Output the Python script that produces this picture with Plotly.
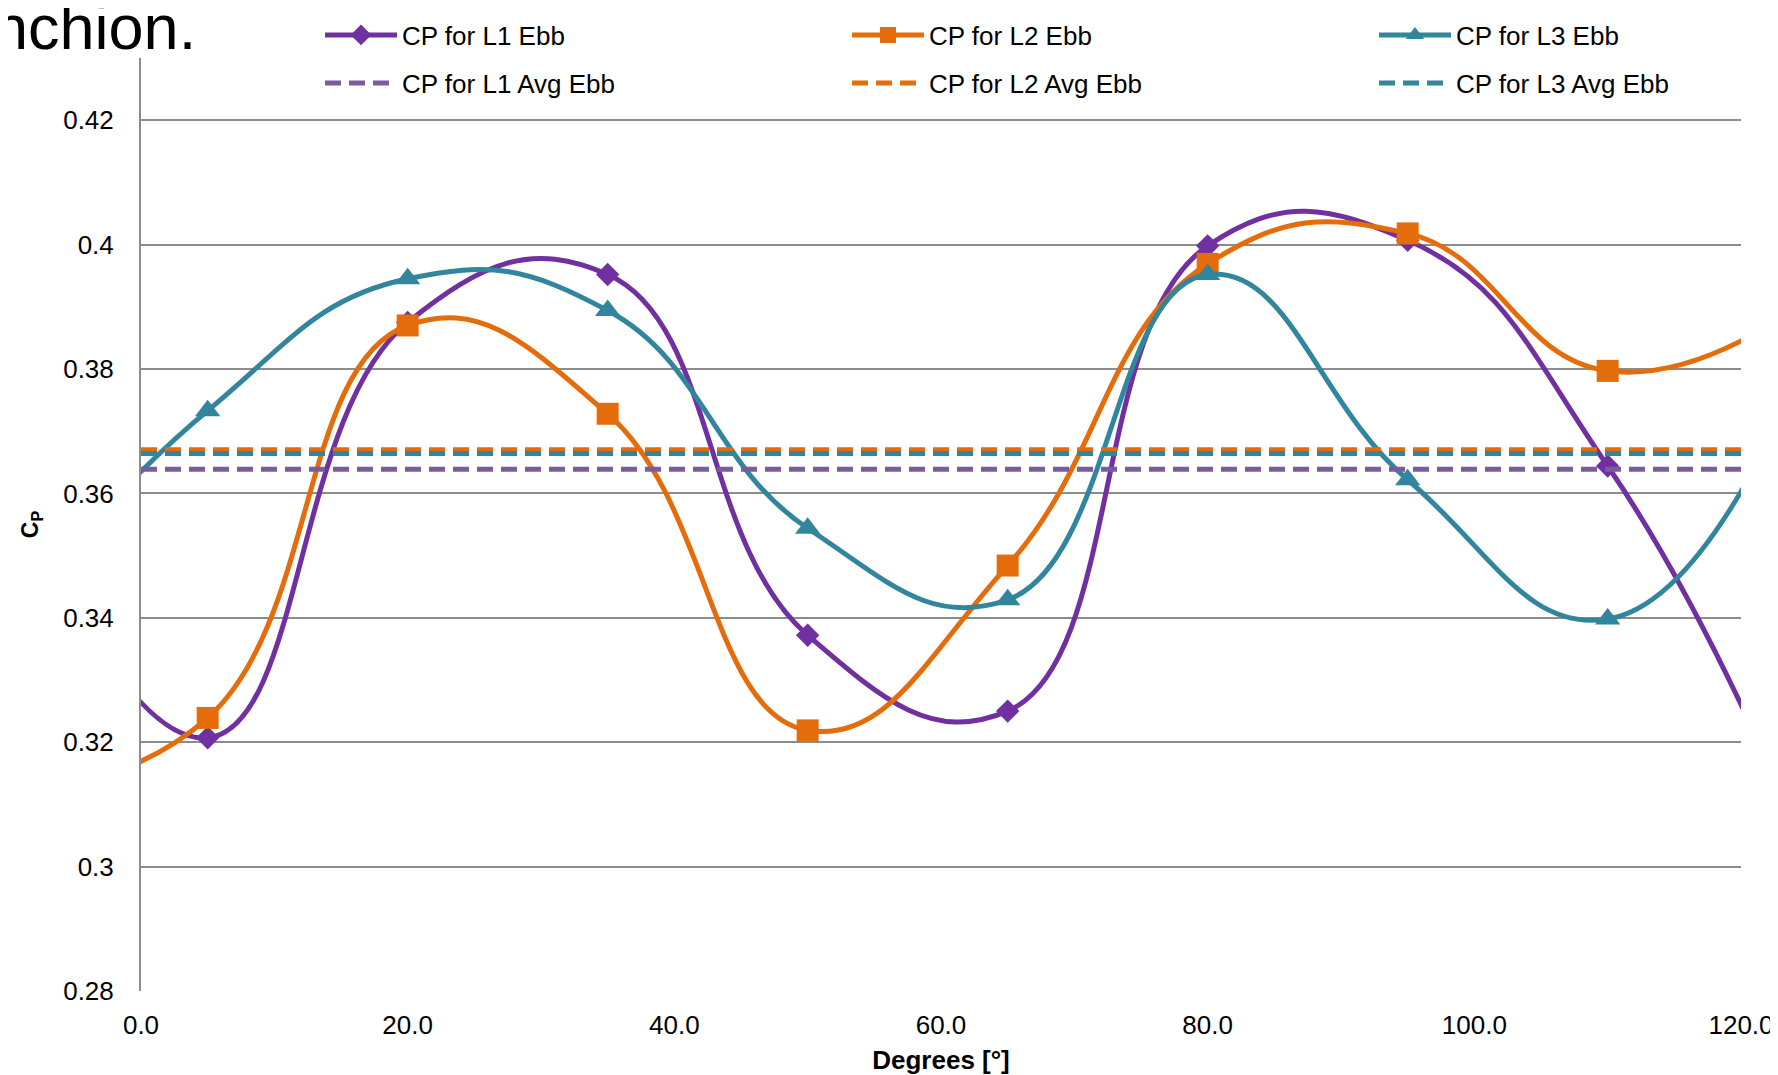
import plotly.graph_objects as go

# ---- data ----
degrees = [-10, 5, 20, 35, 50, 65, 80, 95, 110, 125]
cp_l1 = [0.3644, 0.3207, 0.3875, 0.3952, 0.3372, 0.3250, 0.3998, 0.4007, 0.3644, 0.3020]
cp_l2 = [0.3120, 0.3239, 0.3870, 0.3728, 0.3219, 0.3484, 0.3969, 0.4018, 0.3797, 0.3910]
cp_l3 = [0.3398, 0.3733, 0.3945, 0.3894, 0.3544, 0.3429, 0.3952, 0.3622, 0.3398, 0.3820]
avg_x = [0, 120]
cp_l1_avg = 0.3639
cp_l2_avg = 0.3670
cp_l3_avg = 0.3664

x_ticks = [0, 20, 40, 60, 80, 100, 120]
y_ticks = [0.28, 0.30, 0.32, 0.34, 0.36, 0.38, 0.40, 0.42]

purple = "#7030A0"
orange = "#E46C0A"
teal = "#31859C"
purple_avg = "#7A5C9C"
orange_avg = "#E46C0A"
teal_avg = "#31859C"

FONT = "Liberation Sans, Arial, sans-serif"
# the page body adds an 8px offset; positions below are reference pixels minus 8
OFF = 8
W, H = 1778 - OFF, 1075 - OFF
L, T = 141 - OFF, 58 - OFF
R = 1778 - 1741
B = 1075 - 991

fig = go.Figure()

def main(name, y, color, symbol, size):
    fig.add_trace(go.Scatter(
        x=degrees, y=y, name=name, mode="lines+markers", legend="legend",
        line=dict(color=color, width=5, shape="spline", smoothing=1.3),
        marker=dict(symbol=symbol, size=size, color=color),
        cliponaxis=True,
    ))

main("CP for L1 Ebb", cp_l1, purple, "diamond", 18)
main("CP for L2 Ebb", cp_l2, orange, "square", 22)
main("CP for L3 Ebb", cp_l3, teal, "triangle-up", 22)

def avg(name, v, color):
    fig.add_trace(go.Scatter(
        x=avg_x, y=[v, v], name=name, mode="lines", legend="legend2",
        line=dict(color=color, width=5, dash="16px,8px"),
    ))

avg("CP for L1 Avg Ebb", cp_l1_avg, purple_avg)
avg("CP for L2 Avg Ebb", cp_l2_avg, orange_avg)
avg("CP for L3 Avg Ebb", cp_l3_avg, teal_avg)

fig.add_annotation(
    text="nchion.", xref="paper", yref="paper",
    x=(198 - OFF - L) / (W - L - R), y=1 + (T - (64 - OFF)) / (H - T - B),
    xanchor="right", yanchor="bottom", showarrow=False,
    font=dict(family=FONT, size=63, color="black"),
)

leg_common = dict(
    orientation="h", xref="container", yref="container",
    xanchor="left", yanchor="middle",
    entrywidth=440, entrywidthmode="pixels",
    itemwidth=72, font=dict(family=FONT, size=26, color="black"),
    bgcolor="rgba(0,0,0,0)",
)

fig.update_layout(
    width=W, height=H,
    paper_bgcolor="white", plot_bgcolor="white",
    margin=dict(l=L, r=R, t=T, b=B, autoexpand=False),
    font=dict(family=FONT, size=26, color="black"),
    showlegend=True,
    legend=dict(x=(320 - OFF) / W, y=1 - (35 - OFF) / H, **leg_common),
    legend2=dict(x=(320 - OFF) / W, y=1 - (83 - OFF) / H, **leg_common),
    xaxis=dict(
        range=[0, 120], tickvals=x_ticks, tickformat=".1f",
        showgrid=False, zeroline=False, automargin=False,
        showline=False, ticks="", ticklabelstandoff=16,
        tickfont=dict(family=FONT, size=26),
        title=dict(text="<b>Degrees [°]</b>", standoff=14,
                   font=dict(family=FONT, size=26)),
    ),
    yaxis=dict(
        range=[0.28, 0.43], tickvals=y_ticks, automargin=False,
        showgrid=True, gridcolor="#8C8C8C", gridwidth=2,
        zeroline=False, showline=True, linecolor="#8C8C8C", linewidth=2,
        ticks="", ticklabelstandoff=20,
        tickfont=dict(family=FONT, size=26),
        title=dict(text="<b>C<sub>P</sub></b>", standoff=18,
                   font=dict(family=FONT, size=23)),
    ),
)

fig.write_html("out.html")
